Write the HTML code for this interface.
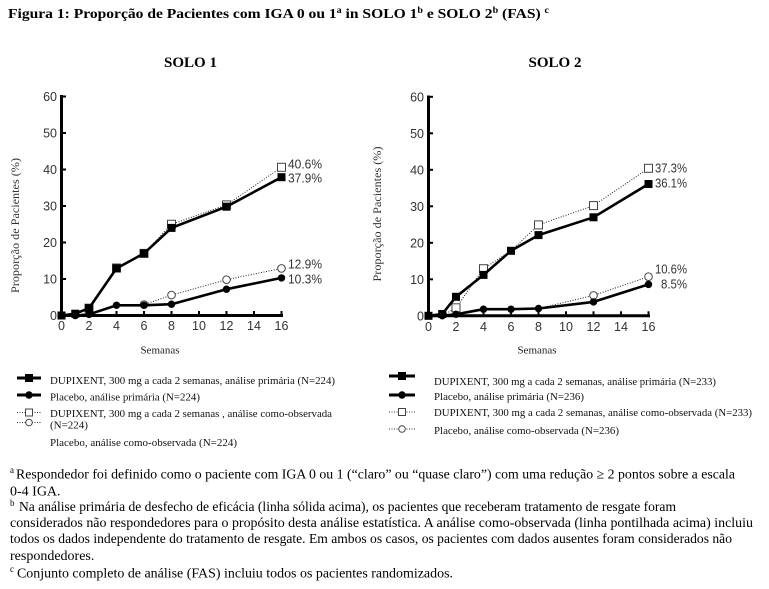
<!DOCTYPE html>
<html><head><meta charset="utf-8">
<style>
html,body{margin:0;padding:0;background:#fff;}
svg{display:block;}
.ser{font-family:"Liberation Serif","DejaVu Serif",serif;}
.san{font-family:"Liberation Sans","DejaVu Sans",sans-serif;}
</style></head>
<body>
<svg width="769" height="589" viewBox="0 0 769 589" xmlns="http://www.w3.org/2000/svg">
<rect width="769" height="589" fill="#fff"/>

<!-- Title -->
<text class="ser" x="8" y="18" font-weight="bold" font-size="14" textLength="541" lengthAdjust="spacingAndGlyphs">Figura 1: Proporção de Pacientes com IGA 0 ou 1<tspan font-size="9" dy="-5">a</tspan><tspan dy="5"> in SOLO 1</tspan><tspan font-size="9" dy="-5">b</tspan><tspan dy="5"> e SOLO 2</tspan><tspan font-size="9" dy="-5">b</tspan><tspan dy="5"> (FAS) </tspan><tspan font-size="9" dy="-5">c</tspan></text>

<text class="ser" x="190.5" y="67" font-weight="bold" font-size="15" text-anchor="middle">SOLO 1</text>
<text class="ser" x="555" y="67" font-weight="bold" font-size="15" text-anchor="middle">SOLO 2</text>

<!-- ============ CHART 1 ============ -->
<g>
<line x1="61.5" y1="95" x2="61.5" y2="317" stroke="#000" stroke-width="3"/>
<line x1="60" y1="315.5" x2="283" y2="315.5" stroke="#000" stroke-width="3"/>
<g fill="#000">
<rect x="63" y="278" width="3" height="2"/>
<rect x="63" y="241.5" width="3" height="2"/>
<rect x="63" y="205" width="3" height="2"/>
<rect x="63" y="168.5" width="3" height="2"/>
<rect x="63" y="132" width="3" height="2"/>
<rect x="63" y="95.5" width="3" height="2"/>
<rect x="88" y="311" width="2" height="3"/>
<rect x="115.5" y="311" width="2" height="3"/>
<rect x="143" y="311" width="2" height="3"/>
<rect x="170.5" y="311" width="2" height="3"/>
<rect x="198" y="311" width="2" height="3"/>
<rect x="225.5" y="311" width="2" height="3"/>
<rect x="253" y="311" width="2" height="3"/>
<rect x="280.5" y="311" width="2" height="3"/>
</g>
<g class="san" font-size="12.5" fill="#333" text-anchor="end">
<text x="57" y="320">0</text>
<text x="57" y="283.5">10</text>
<text x="57" y="247">20</text>
<text x="57" y="210.5">30</text>
<text x="57" y="174">40</text>
<text x="57" y="137.5">50</text>
<text x="57" y="101">60</text>
</g>
<g class="san" font-size="12.5" fill="#333" text-anchor="middle">
<text x="61.5" y="330">0</text>
<text x="89" y="330">2</text>
<text x="116.5" y="330">4</text>
<text x="144" y="330">6</text>
<text x="171.5" y="330">8</text>
<text x="199" y="330">10</text>
<text x="226.5" y="330">12</text>
<text x="254" y="330">14</text>
<text x="281.5" y="330">16</text>
</g>
<text class="ser" x="160" y="353.5" font-size="11" text-anchor="middle" fill="#222">Semanas</text>
<text class="ser" font-size="12" fill="#333" text-anchor="middle" transform="translate(19,225.5) rotate(-90)" textLength="135" lengthAdjust="spacingAndGlyphs">Proporção de Pacientes (%)</text>

<polyline fill="none" stroke="#222" stroke-width="1" stroke-dasharray="1 1.6" points="61.5,315.5 75.25,313.7 89,308.2 116.5,268.05 144,253.4 171.5,224.25 226.5,204.9 281.5,167.3"/>
<polyline fill="none" stroke="#222" stroke-width="1" stroke-dasharray="1 1.6" points="61.5,315.5 75.25,315.5 89,314.4 116.5,305.3 144,304.6 171.5,295.1 226.5,279.7 281.5,268.4"/>
<g fill="#fff" stroke="#444" stroke-width="1">
<rect x="85" y="304.2" width="8" height="8"/>
<rect x="112.5" y="264" width="8" height="8"/>
<rect x="140" y="249.4" width="8" height="8"/>
<rect x="167.5" y="220.25" width="8" height="8"/>
<rect x="222.5" y="200.9" width="8" height="8"/>
<rect x="277.5" y="163.3" width="8" height="8"/>
<circle cx="144" cy="304.6" r="3.8"/>
<circle cx="171.5" cy="295.1" r="3.8"/>
<circle cx="226.5" cy="279.7" r="3.8"/>
<circle cx="281.5" cy="268.4" r="3.8"/>
</g>
<polyline fill="none" stroke="#000" stroke-width="2.6" stroke-linejoin="round" points="61.5,315.5 75.25,315.5 89,314.4 116.5,305.3 144,305.3 171.5,304.2 226.5,289.2 281.5,277.9"/>
<polyline fill="none" stroke="#000" stroke-width="2.6" stroke-linejoin="round" points="61.5,315.5 75.25,313.7 89,308.2 116.5,268.4 144,253.4 171.5,227.9 226.5,206.7 281.5,177.2"/>
<g fill="#000">
<circle cx="75.25" cy="315.5" r="3.7"/>
<circle cx="89" cy="314.4" r="3.7"/>
<circle cx="116.5" cy="305.3" r="3.7"/>
<circle cx="144" cy="305.3" r="3.7"/>
<circle cx="171.5" cy="304.2" r="3.7"/>
<circle cx="226.5" cy="289.2" r="3.7"/>
<circle cx="281.5" cy="277.9" r="3.7"/>
<rect x="57.5" y="311.5" width="8" height="8"/>
<rect x="71.25" y="309.7" width="8" height="8"/>
<rect x="85" y="304.2" width="8" height="8"/>
<rect x="112.5" y="264.4" width="8" height="8"/>
<rect x="140" y="249.4" width="8" height="8"/>
<rect x="167.5" y="223.9" width="8" height="8"/>
<rect x="222.5" y="202.7" width="8" height="8"/>
<rect x="277.5" y="173.2" width="8" height="8"/>
</g>
<g class="san" font-size="12.5" fill="#333">
<text x="288" y="168.5" textLength="34" lengthAdjust="spacingAndGlyphs">40.6%</text>
<text x="288" y="182.5" textLength="34" lengthAdjust="spacingAndGlyphs">37.9%</text>
<text x="288" y="268.5" textLength="34" lengthAdjust="spacingAndGlyphs">12.9%</text>
<text x="288" y="283.5" textLength="34" lengthAdjust="spacingAndGlyphs">10.3%</text>
</g>
</g>

<!-- ============ CHART 2 ============ -->
<g>
<line x1="428.5" y1="95.5" x2="428.5" y2="317.3" stroke="#000" stroke-width="3"/>
<line x1="427" y1="315.8" x2="650" y2="315.8" stroke="#000" stroke-width="3"/>
<g fill="#000">
<rect x="430" y="278.3" width="3" height="2"/>
<rect x="430" y="241.8" width="3" height="2"/>
<rect x="430" y="205.3" width="3" height="2"/>
<rect x="430" y="168.8" width="3" height="2"/>
<rect x="430" y="132.3" width="3" height="2"/>
<rect x="430" y="95.8" width="3" height="2"/>
<rect x="455" y="311.3" width="2" height="3"/>
<rect x="482.5" y="311.3" width="2" height="3"/>
<rect x="510" y="311.3" width="2" height="3"/>
<rect x="537.5" y="311.3" width="2" height="3"/>
<rect x="565" y="311.3" width="2" height="3"/>
<rect x="592.5" y="311.3" width="2" height="3"/>
<rect x="620" y="311.3" width="2" height="3"/>
<rect x="647.5" y="311.3" width="2" height="3"/>
</g>
<g class="san" font-size="12.5" fill="#333" text-anchor="end">
<text x="424" y="320.3">0</text>
<text x="424" y="283.8">10</text>
<text x="424" y="247.3">20</text>
<text x="424" y="210.8">30</text>
<text x="424" y="174.3">40</text>
<text x="424" y="137.8">50</text>
<text x="424" y="101.3">60</text>
</g>
<g class="san" font-size="12.5" fill="#333" text-anchor="middle">
<text x="428.5" y="331">0</text>
<text x="456" y="331">2</text>
<text x="483.5" y="331">4</text>
<text x="511" y="331">6</text>
<text x="538.5" y="331">8</text>
<text x="566" y="331">10</text>
<text x="593.5" y="331">12</text>
<text x="621" y="331">14</text>
<text x="648.5" y="331">16</text>
</g>
<text class="ser" x="537" y="353.5" font-size="11" text-anchor="middle" fill="#222">Semanas</text>
<text class="ser" font-size="12" fill="#333" text-anchor="middle" transform="translate(381,214) rotate(-90)" textLength="135" lengthAdjust="spacingAndGlyphs">Proporção de Pacientes (%)</text>

<polyline fill="none" stroke="#222" stroke-width="1" stroke-dasharray="1 1.6" points="428.5,315.8 442.25,315.8 456,307.8 483.5,268.7 511,250.8 538.5,224.9 593.5,205.6 648.5,168.3"/>
<polyline fill="none" stroke="#222" stroke-width="1" stroke-dasharray="1 1.6" points="428.5,315.8 442.25,315.8 456,314.3 483.5,309.2 511,309.2 538.5,308.5 593.5,295.4 648.5,276.7"/>
<g fill="#fff" stroke="#444" stroke-width="1">
<rect x="452" y="303.8" width="8" height="8"/>
<rect x="479.5" y="264.7" width="8" height="8"/>
<rect x="534.5" y="220.9" width="8" height="8"/>
<rect x="589.5" y="201.6" width="8" height="8"/>
<rect x="644.5" y="164.3" width="8" height="8"/>
<circle cx="593.5" cy="295.4" r="3.8"/>
<circle cx="648.5" cy="276.7" r="3.8"/>
</g>
<polyline fill="none" stroke="#000" stroke-width="2.6" stroke-linejoin="round" points="428.5,315.8 442.25,315.8 456,314.3 483.5,309.2 511,309.2 538.5,308.5 593.5,301.9 648.5,284.4"/>
<polyline fill="none" stroke="#000" stroke-width="2.6" stroke-linejoin="round" points="428.5,315.8 442.25,314 456,296.8 483.5,274.9 511,250.8 538.5,235.1 593.5,217.3 648.5,184"/>
<g fill="#000">
<circle cx="442.25" cy="315.8" r="3.7"/>
<circle cx="456" cy="314.3" r="3.7"/>
<circle cx="483.5" cy="309.2" r="3.7"/>
<circle cx="511" cy="309.2" r="3.7"/>
<circle cx="538.5" cy="308.5" r="3.7"/>
<circle cx="593.5" cy="301.9" r="3.7"/>
<circle cx="648.5" cy="284.4" r="3.7"/>
<rect x="424.5" y="311.8" width="8" height="8"/>
<rect x="438.25" y="310" width="8" height="8"/>
<rect x="452" y="292.8" width="8" height="8"/>
<rect x="479.5" y="270.9" width="8" height="8"/>
<rect x="507" y="246.8" width="8" height="8"/>
<rect x="534.5" y="231.1" width="8" height="8"/>
<rect x="589.5" y="213.3" width="8" height="8"/>
<rect x="644.5" y="180" width="8" height="8"/>
</g>
<g class="san" font-size="12.5" fill="#333">
<text x="655" y="172.5" textLength="32" lengthAdjust="spacingAndGlyphs">37.3%</text>
<text x="655" y="187.5" textLength="32" lengthAdjust="spacingAndGlyphs">36.1%</text>
<text x="655" y="273.5" textLength="32" lengthAdjust="spacingAndGlyphs">10.6%</text>
<text x="661" y="288.5" textLength="26" lengthAdjust="spacingAndGlyphs">8.5%</text>
</g>
</g>

<!-- ============ LEGEND 1 ============ -->
<g>
<line x1="17" y1="378" x2="41" y2="378" stroke="#000" stroke-width="3"/>
<rect x="25" y="374" width="8" height="8" fill="#000"/>
<line x1="17" y1="395" x2="41" y2="395" stroke="#000" stroke-width="3"/>
<circle cx="29" cy="395" r="3.7" fill="#000"/>
<line x1="17" y1="412.5" x2="41" y2="412.5" stroke="#333" stroke-width="1" stroke-dasharray="1 1.5"/>
<rect x="25.5" y="409" width="7" height="7" fill="#fff" stroke="#444" stroke-width="1"/>
<line x1="17" y1="422.5" x2="41" y2="422.5" stroke="#333" stroke-width="1" stroke-dasharray="1 1.5"/>
<circle cx="29" cy="422.5" r="3.3" fill="#fff" stroke="#444" stroke-width="1"/>
<g class="ser" font-size="11" fill="#111">
<text x="50" y="384" textLength="285" lengthAdjust="spacingAndGlyphs">DUPIXENT, 300 mg a cada 2 semanas, análise primária (N=224)</text>
<text x="50" y="400.5" textLength="150" lengthAdjust="spacingAndGlyphs">Placebo, análise primária (N=224)</text>
<text x="50" y="417" textLength="282" lengthAdjust="spacingAndGlyphs">DUPIXENT, 300 mg a cada 2 semanas , análise como-observada</text>
<text x="50" y="428.5">(N=224)</text>
<text x="50" y="446" textLength="187" lengthAdjust="spacingAndGlyphs">Placebo, análise como-observada (N=224)</text>
</g>
</g>

<!-- ============ LEGEND 2 ============ -->
<g>
<line x1="389" y1="376" x2="415" y2="376" stroke="#000" stroke-width="3"/>
<rect x="398" y="372" width="8" height="8" fill="#000"/>
<line x1="389" y1="395" x2="415" y2="395" stroke="#000" stroke-width="3"/>
<circle cx="402" cy="395" r="3.7" fill="#000"/>
<line x1="389" y1="412" x2="415" y2="412" stroke="#333" stroke-width="1" stroke-dasharray="1 1.5"/>
<rect x="398.5" y="408.5" width="7" height="7" fill="#fff" stroke="#444" stroke-width="1"/>
<line x1="389" y1="429" x2="415" y2="429" stroke="#333" stroke-width="1" stroke-dasharray="1 1.5"/>
<circle cx="402" cy="429" r="3.3" fill="#fff" stroke="#444" stroke-width="1"/>
<g class="ser" font-size="11" fill="#111">
<text x="434" y="385" textLength="282" lengthAdjust="spacingAndGlyphs">DUPIXENT, 300 mg a cada 2 semanas, análise primária (N=233)</text>
<text x="434" y="400" textLength="150" lengthAdjust="spacingAndGlyphs">Placebo, análise primária (N=236)</text>
<text x="434" y="416" textLength="318" lengthAdjust="spacingAndGlyphs">DUPIXENT, 300 mg a cada 2 semanas, análise como-observada (N=233)</text>
<text x="434" y="434" textLength="185" lengthAdjust="spacingAndGlyphs">Placebo, análise como-observada (N=236)</text>
</g>
</g>

<!-- ============ FOOTNOTES ============ -->
<g class="ser" font-size="14" fill="#000">
<text x="10" y="473" font-size="9">a</text>
<text x="16" y="478.5" textLength="719" lengthAdjust="spacingAndGlyphs">Respondedor foi definido como o paciente com IGA 0 ou 1 (“claro” ou “quase claro”) com uma redução ≥ 2 pontos sobre a escala</text>
<text x="10" y="495.5">0-4 IGA.</text>
<text x="10" y="506" font-size="9">b</text>
<text x="19" y="511" textLength="657" lengthAdjust="spacingAndGlyphs">Na análise primária de desfecho de eficácia (linha sólida acima), os pacientes que receberam tratamento de resgate foram</text>
<text x="10" y="527" textLength="743" lengthAdjust="spacingAndGlyphs">considerados não respondedores para o propósito desta análise estatística. A análise como-observada (linha pontilhada acima) incluiu</text>
<text x="10" y="543" textLength="722" lengthAdjust="spacingAndGlyphs">todos os dados independente do tratamento de resgate. Em ambos os casos, os pacientes com dados ausentes foram considerados não</text>
<text x="10" y="560">respondedores.</text>
<text x="10" y="572" font-size="9">c</text>
<text x="17" y="577.5" textLength="436" lengthAdjust="spacingAndGlyphs">Conjunto completo de análise (FAS) incluiu todos os pacientes randomizados.</text>
</g>
</svg>
</body></html>
